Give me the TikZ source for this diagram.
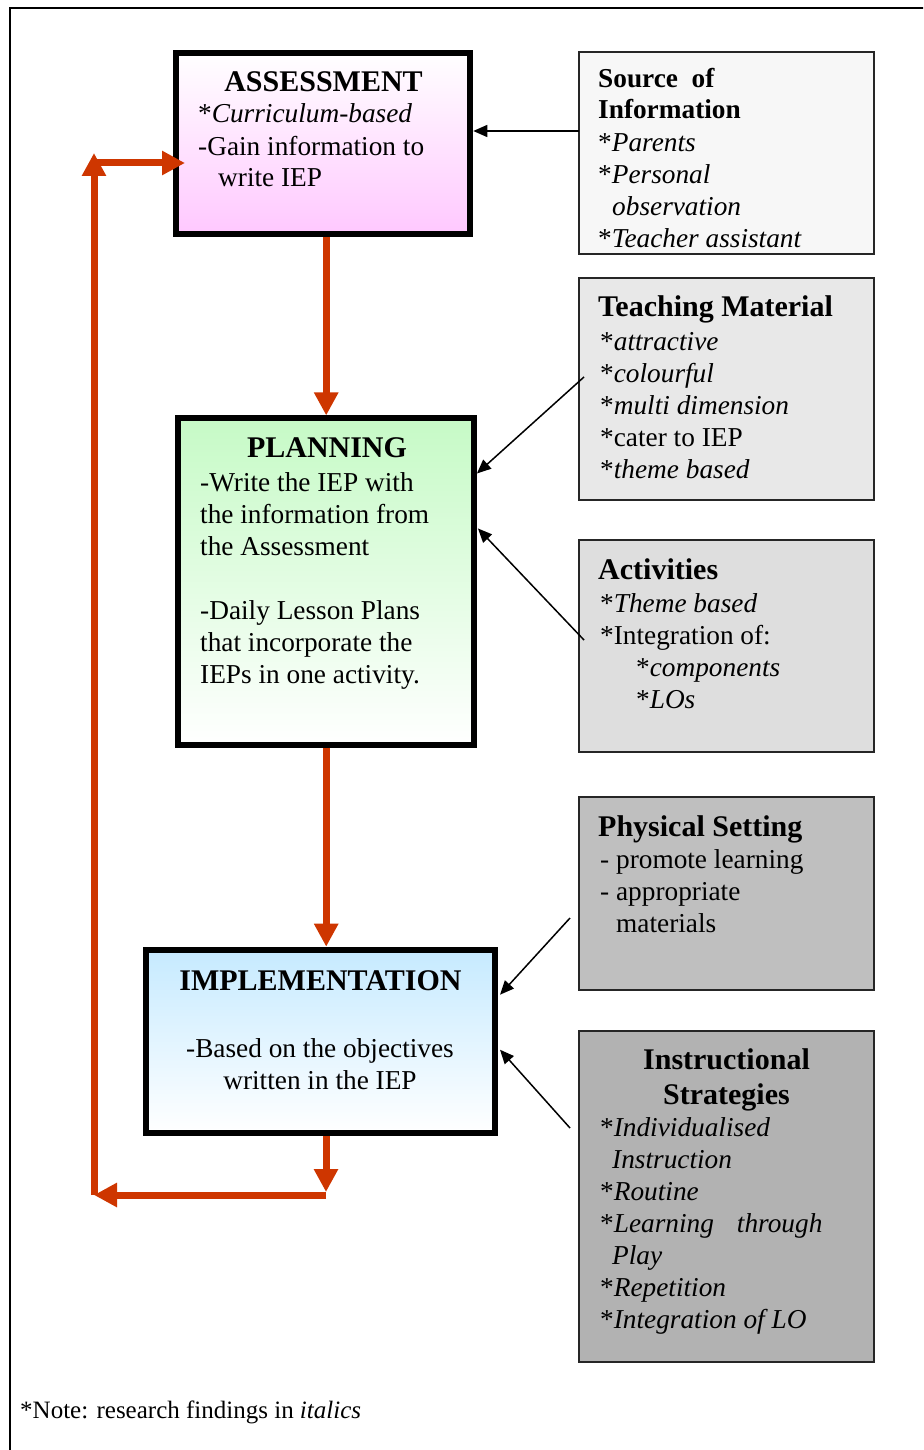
\documentclass[tikz,border=0pt]{standalone}
\usepackage{fontspec}
\setmainfont{Liberation Serif}
\usetikzlibrary{arrows.meta,calc}
\definecolor{loopred}{RGB}{206,54,0}
\definecolor{assesspink}{RGB}{255,200,255}
\definecolor{plangreen}{RGB}{198,250,198}
\definecolor{implblue}{RGB}{198,234,255}
\newcommand{\bodyfont}{\fontsize{27.3}{32}\selectfont}
\newcommand{\headfont}{\fontsize{30}{35}\selectfont\bfseries}

\begin{document}
\begin{tikzpicture}[x=1pt,y=-1pt,
  mainbox/.style={draw=black,line width=6pt},
  sidebox/.style={draw=black!85,line width=1.6pt,minimum width=295pt},
  txt/.style={inner sep=0pt,anchor=base west,align=left,font=\bodyfont},
  head/.style={inner sep=0pt,anchor=base,font=\headfont},
  loop/.style={draw=loopred,line width=7pt,-{Triangle[length=23pt,width=23pt]}},
  feed/.style={draw=black,line width=1.5pt,-{Triangle[length=14pt,width=12pt]}}]
\useasboundingbox (0,0) rectangle (923,1450);
\clip (0,0) rectangle (923,1450);
\draw[line width=2pt] (10,8) rectangle (950,1480);

% the three stages
\node[mainbox,top color=white,bottom color=assesspink,minimum width=294pt,minimum height=181pt] (assess) at (323.3,143.3) {};
\node[mainbox,top color=plangreen,bottom color=white,minimum width=295.5pt,minimum height=326.5pt] (plan) at (326.2,581.7) {};
\node[mainbox,top color=implblue,bottom color=white,minimum width=349pt,minimum height=183.6pt] (impl) at (320.5,1041.5) {};

% the side boxes
\node[sidebox,fill=black!3,minimum height=202pt] (source) at (726.5,153) {};
\node[sidebox,fill=black!9,minimum height=222pt] (teach) at (726.5,389) {};
\node[sidebox,fill=black!13,minimum height=212pt] (activ) at (726.5,646) {};
\node[sidebox,fill=black!25,minimum height=193pt] (phys) at (726.5,893.5) {};
\node[sidebox,fill=black!30,minimum height=331pt] (instr) at (726.5,1196.5) {};

% texts (anchored at the baseline of their last line)
\node[head] (assessHead) at (323.5,92) {ASSESSMENT};
\node[txt] (assessText) at (198,187) {*\textit{Curriculum-based}\\-Gain information to\\\hspace*{20pt}write IEP};
\node[head] (planHead) at (327,457) {PLANNING};
\node[txt] (planText) at (200,683) {-Write the IEP with\\the information from\\the Assessment\\[32pt]-Daily Lesson Plans\\that incorporate the\\IEPs in one activity.};
\node[head] (implHead) at (320.5,990) {IMPLEMENTATION};
\node[txt,anchor=base,align=center] (implText) at (320,1089) {-Based on the objectives\\written in the IEP};

\node[txt] (sourceText) at (598,247) {\textbf{Source\ \ of}\\\textbf{Information}\\*\textit{Parents}\\*\textit{Personal}\\\hspace*{14pt}\textit{observation}\\*\textit{Teacher assistant}};
\node[head,anchor=base west] (teachHead) at (598,316) {Teaching Material};
\node[txt] (teachText) at (600,478) {*\textit{attractive}\\*\textit{colourful}\\*\textit{multi dimension}\\*cater to IEP\\*\textit{theme based}};
\node[head,anchor=base west] (activHead) at (598,579) {Activities};
\node[txt] (activText) at (600,708) {*\textit{Theme based}\\*Integration of:\\\hspace*{36pt}*\textit{components}\\\hspace*{36pt}*\textit{LOs}};
\node[head,anchor=base west] (physHead) at (598,836) {Physical Setting};
\node[txt] (physText) at (600,932) {- promote learning\\- appropriate\\\hspace*{16pt}materials};
\node[head,align=center] (instrHead) at (726.5,1104) {Instructional\\Strategies};
\node[txt] (instrText) at (600,1328) {*\textit{Individualised}\\\hspace*{12pt}\textit{Instruction}\\*\textit{Routine}\\*\textit{Learning}\hspace{23pt}\textit{through}\\\hspace*{12pt}\textit{Play}\\*\textit{Repetition}\\*\textit{Integration of LO}};

\node[txt,font=\fontsize{25}{30}\selectfont] (note) at (20,1418) {*Note: research findings in \textit{italics}};

% red cycle
\coordinate (turnR) at (326,1195);
\coordinate (turnL) at (94,1195);
\coordinate (topL) at (94,153);
\coordinate (loopIn) at (94,163);
\coordinate (entry) at (185,163);
\draw[loop] (assess.south -| plan.north) -- (plan.north);
\draw[loop] (plan.south) -- (plan.south |- impl.north);
\draw[loop] (impl.south -| turnR) -- ($(turnR)+(0,-3)$);
\draw[loop] (turnR) -- (turnL);
\draw[loop] (turnL) -- (topL);
\draw[loop] (loopIn) -- (entry);

% inputs from the side
\coordinate (sourceOut) at (579,131);
\coordinate (teachOut) at (584,377);
\coordinate (activOut) at (584,640);
\coordinate (physOut) at (570,918);
\coordinate (instrOut) at (570,1128);
\draw[feed] (sourceOut) -- (sourceOut -| assess.east);
\draw[feed] (teachOut) -- ($(plan.north east)+(0,58)$);
\draw[feed] (activOut) -- ($(plan.north east)+(1,113)$);
\draw[feed] (physOut) -- ($(impl.north east)+(2,48)$);
\draw[feed] (instrOut) -- ($(impl.north east)+(2,103)$);
\end{tikzpicture}
\end{document}
